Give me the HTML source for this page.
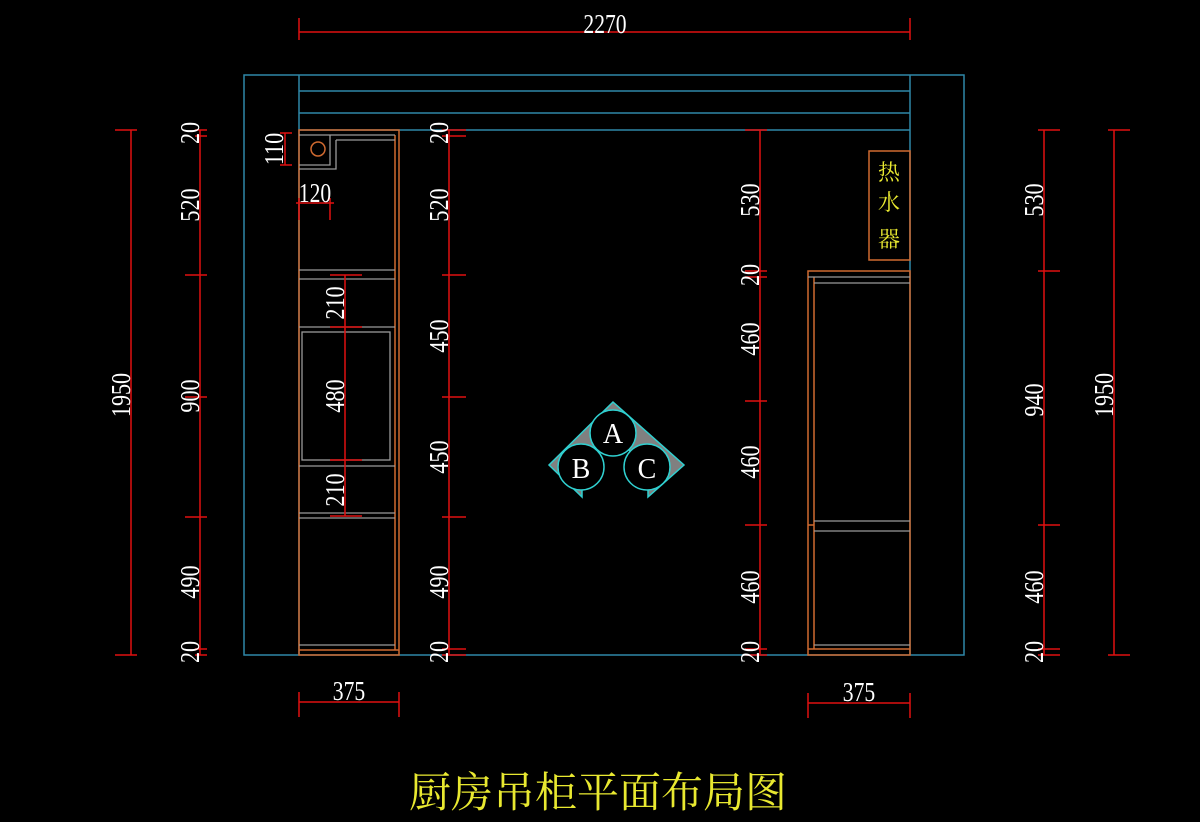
<!DOCTYPE html>
<html><head><meta charset="utf-8"><style>html,body{margin:0;background:#000;}svg{display:block}</style></head>
<body>
<svg width="1200" height="822" viewBox="0 0 1200 822" xmlns="http://www.w3.org/2000/svg">
<rect width="1200" height="822" fill="#000"/>
<g stroke="#2f87a8" stroke-width="1.5" fill="none">
<rect x="244" y="75" width="720" height="580"/>
<line x1="299" y1="75" x2="299" y2="655"/>
<line x1="910" y1="75" x2="910" y2="655"/>
<line x1="299" y1="91" x2="910" y2="91"/>
<line x1="299" y1="113" x2="910" y2="113"/>
<line x1="299" y1="130" x2="910" y2="130"/>
</g>
<g stroke="#d06a30" stroke-width="1.5" fill="none">
<rect x="299" y="130" width="100" height="525"/>
<line x1="395" y1="135" x2="395" y2="650"/>
<line x1="299" y1="650" x2="399" y2="650"/>
<circle cx="318" cy="149" r="7"/>
</g>
<g stroke="#9a9a9a" stroke-width="1.3" fill="none">
<line x1="299" y1="135" x2="395" y2="135"/>
<polyline points="330,135 330,165 299,165"/>
<polyline points="336,140 395,140"/>
<polyline points="336,140 336,169 299,169"/>
<line x1="299" y1="270" x2="395" y2="270"/>
<line x1="299" y1="279" x2="395" y2="279"/>
<line x1="299" y1="327" x2="395" y2="327"/>
<rect x="302" y="332" width="88" height="128"/>
<line x1="299" y1="466" x2="395" y2="466"/>
<line x1="299" y1="513" x2="395" y2="513"/>
<line x1="299" y1="518" x2="395" y2="518"/>
<line x1="299" y1="645" x2="395" y2="645"/>
</g>
<g stroke="#d06a30" stroke-width="1.5" fill="none">
<rect x="808" y="271" width="102" height="384"/>
<line x1="814" y1="277" x2="814" y2="649"/>
<line x1="808" y1="649" x2="910" y2="649"/>
<line x1="808" y1="525" x2="814" y2="525"/>
<rect x="869" y="151" width="41" height="109"/>
</g>
<g stroke="#9a9a9a" stroke-width="1.3" fill="none">
<line x1="808" y1="277" x2="910" y2="277"/>
<line x1="814" y1="283" x2="910" y2="283"/>
<line x1="814" y1="521" x2="910" y2="521"/>
<line x1="814" y1="531" x2="910" y2="531"/>
<line x1="814" y1="645" x2="910" y2="645"/>
</g>
<g fill="#e8e830" font-family="'Liberation Serif','Noto Serif CJK SC',serif" font-size="22" text-anchor="middle">
<text x="889" y="180">热</text><text x="889" y="210">水</text><text x="889" y="247">器</text>
</g>
<g stroke="#e01010" stroke-width="1.5" fill="none">
<line x1="299" y1="32" x2="910" y2="32"/><line x1="299" y1="18" x2="299" y2="40"/><line x1="910" y1="18" x2="910" y2="40"/>
<line x1="131" y1="130" x2="131" y2="655"/><line x1="115" y1="130" x2="137" y2="130"/><line x1="115" y1="655" x2="137" y2="655"/>
<line x1="200" y1="130" x2="200" y2="655"/>
<path d="M185 275H207M185 397H207M185 517H207M195 130H207M195 136H207M195 649H207M195 655H207"/>
<line x1="449" y1="130" x2="449" y2="655"/>
<path d="M442 275H466M442 397H466M442 517H466M442 130H466M442 136H466M442 649H466M442 655H466"/>
<line x1="345" y1="275" x2="345" y2="516"/>
<path d="M330 275H362M330 327H362M330 460H362M330 516H362"/>
<line x1="285" y1="133" x2="285" y2="165"/><path d="M280 133H292M280 165H292"/>
<line x1="296" y1="203" x2="334" y2="203"/><path d="M299 198V220M330 198V220"/>
<line x1="760" y1="130" x2="760" y2="655"/>
<path d="M745 130H767M745 271H767M745 277H767M745 401H767M745 525H767M745 649H767M745 655H767"/>
<line x1="1044" y1="130" x2="1044" y2="655"/>
<path d="M1038 130H1060M1038 271H1060M1038 525H1060M1038 649H1060M1038 655H1060"/>
<line x1="1114" y1="130" x2="1114" y2="655"/><path d="M1108 130H1130M1108 655H1130"/>
<line x1="299" y1="702" x2="399" y2="702"/><path d="M299 692V717M399 692V717"/>
<line x1="808" y1="703" x2="910" y2="703"/><path d="M808 693V718M910 693V718"/>
</g>
<g fill="#fff" font-family="'Liberation Serif',serif" font-size="27" text-anchor="middle">
<text x="605" y="33" transform="translate(605 0) scale(0.8 1) translate(-605 0)">2270</text>
<text x="349" y="700" transform="translate(349 0) scale(0.8 1) translate(-349 0)">375</text>
<text x="859" y="701" transform="translate(859 0) scale(0.8 1) translate(-859 0)">375</text>
<text x="315" y="202" transform="translate(315 0) scale(0.8 1) translate(-315 0)">120</text>
</g>
<g fill="#fff" font-family="'Liberation Serif',serif" font-size="27" text-anchor="middle">
<g transform="translate(131 395) rotate(-90) scale(0.82 1)"><text y="-1">1950</text></g>
<g transform="translate(200 133) rotate(-90) scale(0.82 1)"><text y="-1">20</text></g>
<g transform="translate(200 205) rotate(-90) scale(0.82 1)"><text y="-1">520</text></g>
<g transform="translate(200 396) rotate(-90) scale(0.82 1)"><text y="-1">900</text></g>
<g transform="translate(200 582) rotate(-90) scale(0.82 1)"><text y="-1">490</text></g>
<g transform="translate(200 652) rotate(-90) scale(0.82 1)"><text y="-1">20</text></g>
<g transform="translate(284 149) rotate(-90) scale(0.82 1)"><text y="-1">110</text></g>
<g transform="translate(345 303) rotate(-90) scale(0.82 1)"><text y="-1">210</text></g>
<g transform="translate(345 396) rotate(-90) scale(0.82 1)"><text y="-1">480</text></g>
<g transform="translate(345 490) rotate(-90) scale(0.82 1)"><text y="-1">210</text></g>
<g transform="translate(449 133) rotate(-90) scale(0.82 1)"><text y="-1">20</text></g>
<g transform="translate(449 205) rotate(-90) scale(0.82 1)"><text y="-1">520</text></g>
<g transform="translate(449 336) rotate(-90) scale(0.82 1)"><text y="-1">450</text></g>
<g transform="translate(449 457) rotate(-90) scale(0.82 1)"><text y="-1">450</text></g>
<g transform="translate(449 582) rotate(-90) scale(0.82 1)"><text y="-1">490</text></g>
<g transform="translate(449 652) rotate(-90) scale(0.82 1)"><text y="-1">20</text></g>
<g transform="translate(760 200) rotate(-90) scale(0.82 1)"><text y="-1">530</text></g>
<g transform="translate(760 275) rotate(-90) scale(0.82 1)"><text y="-1">20</text></g>
<g transform="translate(760 339) rotate(-90) scale(0.82 1)"><text y="-1">460</text></g>
<g transform="translate(760 462) rotate(-90) scale(0.82 1)"><text y="-1">460</text></g>
<g transform="translate(760 587) rotate(-90) scale(0.82 1)"><text y="-1">460</text></g>
<g transform="translate(760 652) rotate(-90) scale(0.82 1)"><text y="-1">20</text></g>
<g transform="translate(1044 200) rotate(-90) scale(0.82 1)"><text y="-1">530</text></g>
<g transform="translate(1044 400) rotate(-90) scale(0.82 1)"><text y="-1">940</text></g>
<g transform="translate(1044 587) rotate(-90) scale(0.82 1)"><text y="-1">460</text></g>
<g transform="translate(1044 652) rotate(-90) scale(0.82 1)"><text y="-1">20</text></g>
<g transform="translate(1114 395) rotate(-90) scale(0.82 1)"><text y="-1">1950</text></g>
</g>
<g>
<path d="M613 402 L684 465 L648 497 L648 467 L613 436 L582 467 L582 497 L549 465 Z" fill="#808080" stroke="#30d0d0" stroke-width="1.5"/>
<circle cx="613" cy="433" r="23" fill="#000" stroke="#30d0d0" stroke-width="1.5"/>
<circle cx="581" cy="467" r="23" fill="#000" stroke="#30d0d0" stroke-width="1.5"/>
<circle cx="647" cy="467" r="23" fill="#000" stroke="#30d0d0" stroke-width="1.5"/>
<g fill="#fff" font-family="'Liberation Serif',serif" font-size="28" text-anchor="middle">
<text x="613" y="443">A</text><text x="581" y="478">B</text><text x="647" y="478">C</text>
</g>
</g>
<text x="598" y="807" fill="#e8e830" font-family="'Liberation Serif','Noto Serif CJK SC',serif" font-size="42" text-anchor="middle">厨房吊柜平面布局图</text>
</svg>
</body></html>
